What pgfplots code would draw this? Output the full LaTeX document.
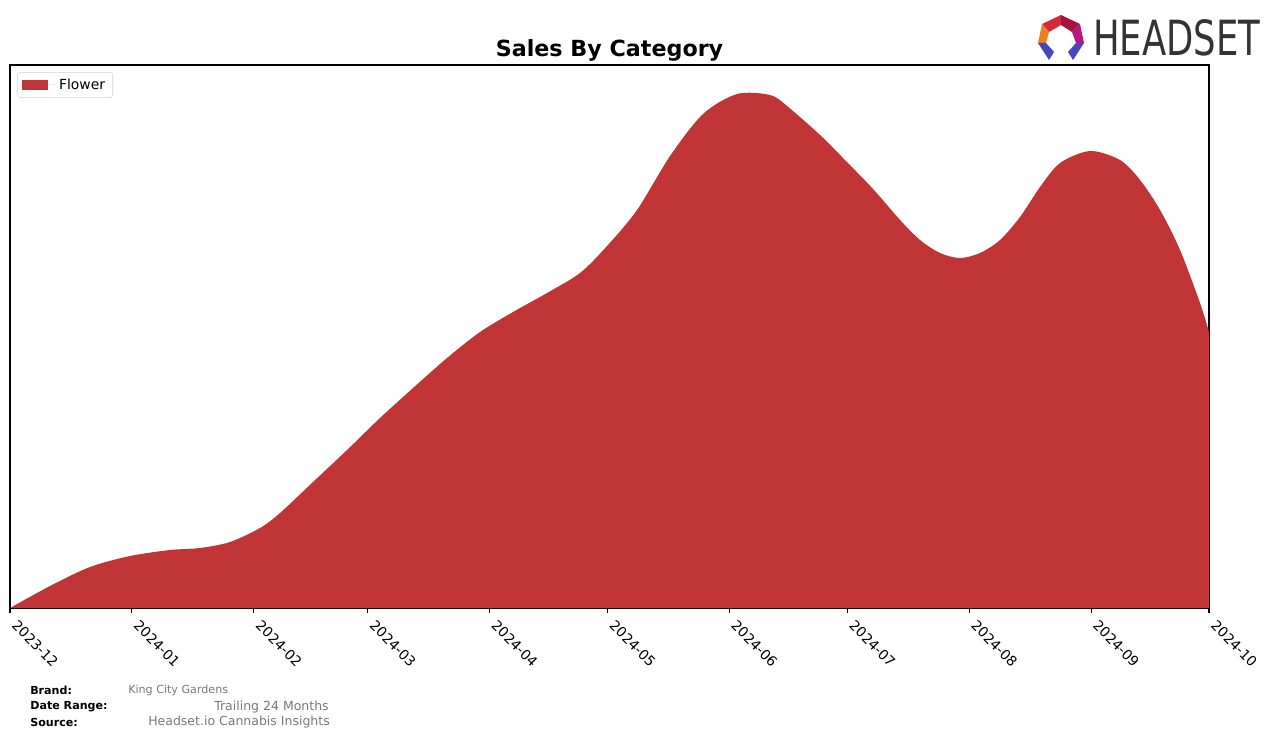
\documentclass[border=0pt]{standalone}
\usepackage{pgfplots}
\pgfplotsset{compat=1.18}
\usepackage{fontspec}
\setmainfont{DejaVu Sans}
\newfontfamily\logofont{DejaVu Sans}
\usepackage{graphicx}
\definecolor{flower}{RGB}{193,52,53}
\definecolor{footgray}{RGB}{120,120,120}
\definecolor{logogray}{RGB}{51,51,51}
\definecolor{lgred}{RGB}{212,42,58}
\definecolor{lgcrimson}{RGB}{168,18,62}
\definecolor{lgmagenta}{RGB}{181,23,127}
\definecolor{lgorange}{RGB}{240,127,34}
\definecolor{lgblue}{RGB}{70,70,190}
\begin{document}
\begin{tikzpicture}[x=0.72pt,y=0.72pt]
\useasboundingbox (0,0) rectangle (1276,738);
\begin{axis}[
  at={(7.2pt,93.6pt)}, anchor=south west,
  scale only axis, width=863.28pt, height=390.96pt,
  xmin=0, xmax=305, ymin=0, ymax=543,
  axis line style={line width=0.8pt},
  xtick={0,31,62,91,122,152,183,213,244,275,305},
  xticklabels={2023-12,2024-01,2024-02,2024-03,2024-04,2024-05,2024-06,2024-07,2024-08,2024-09,2024-10},
  xtick pos=bottom, ytick=\empty,
  tick align=outside, major tick length=3.5pt,
  xtick style={black, line width=0.8pt},
  xticklabel style={xshift=6pt, yshift=-3pt, rotate=-45, anchor=north west, font=\fontsize{10}{12}\selectfont, inner sep=1pt},
  legend style={at={(0.006,0.987)}, anchor=north west, draw=gray!35, rounded corners=2pt,
    font=\fontsize{10}{12}\selectfont, inner xsep=3.5pt, inner ysep=2.5pt},
  legend cell align=left,
]
\addplot[fill=flower, draw=none, smooth,
  legend image code/.code={\fill[flower, sharp corners] (0pt,-3.6pt) rectangle (18.7pt,3.6pt); \path (0pt,0pt) -- (24.5pt,0pt);}]
coordinates {
(0,0) (10.18,22) (20.35,41) (30.53,52) (40.70,58) (48.33,60) (55.97,66) (63.60,80)
(68.68,95) (77.08,126) (85.73,158) (94.12,190) (102.52,220) (111.17,250)
(119.56,276) (127.96,296) (136.61,315) (145.00,335) (151.87,362) (159.50,398)
(167.90,452) (176.29,494) (184.94,514) (193.33,513) (197.66,502)
(206.06,473) (211.14,453) (219.54,419) (226.41,388) (231.49,368) (236.58,355)
(241.67,350) (246.76,355) (251.84,368) (256.93,391) (262.02,421) (267.11,445)
(274.74,457) (282.37,448) (287.46,428) (292.55,398) (297.63,358)
(302.72,305) (305,276)
} \closedcycle;
\addlegendentry{Flower}
\end{axis}
% title
\node[font=\fontsize{16}{19}\selectfont\bfseries] at (609.5,688) {Sales By Category};
% footer
\node[anchor=west, font=\fontsize{8}{10}\selectfont\bfseries, inner sep=0] at (30,48) {Brand:};
\node[anchor=west, font=\fontsize{8}{10}\selectfont\bfseries, inner sep=0] at (30,31) {Date Range:};
\node[anchor=west, font=\fontsize{8}{10}\selectfont\bfseries, inner sep=0] at (30,16) {Source:};
\node[anchor=west, font=\fontsize{8}{10}\selectfont, text=footgray, inner sep=0] at (128,48) {King City Gardens};
\node[anchor=west, font=\fontsize{9}{11}\selectfont, text=footgray, inner sep=0] at (214,31) {Trailing 24 Months};
\node[anchor=west, font=\fontsize{9}{11}\selectfont, text=footgray, inner sep=0] at (148,16) {Headset.io Cannabis Insights};
% logo
\node[anchor=south west, inner sep=0, text=logogray] at (1093,682) {\resizebox{120.2pt}{25.9pt}{\logofont HEADSET}};
\fill[lgred] (1061,723) -- (1042,714) -- (1049,706) -- (1061,713) -- cycle;
\fill[lgcrimson] (1061,723) -- (1080,714) -- (1072,706) -- (1061,713) -- cycle;
\fill[lgmagenta] (1080,714) -- (1084,695) -- (1076,695) -- (1072,706) -- cycle;
\fill[lgorange] (1042,714) -- (1038,695) -- (1046,695) -- (1049,706) -- cycle;
\fill[lgblue] (1038,695) -- (1046,695) -- (1054,686) -- (1049,678) -- cycle;
\fill[lgblue] (1084,695) -- (1076,695) -- (1068,686) -- (1073,678) -- cycle;
\end{tikzpicture}
\end{document}
